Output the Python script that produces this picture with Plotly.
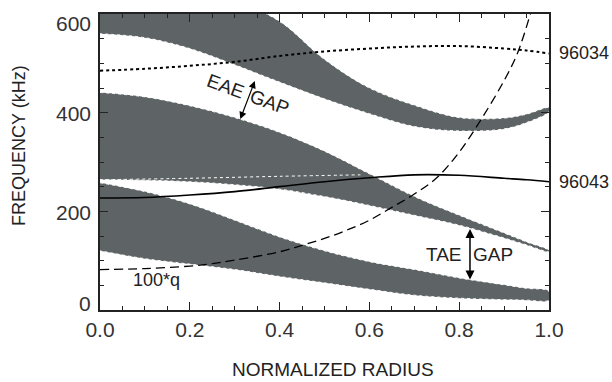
import plotly.graph_objects as go

# radial grid for the continuum boundaries
r = [0.0, 0.1, 0.2, 0.3, 0.4, 0.5, 0.6, 0.7, 0.8, 0.9, 0.95, 1.0]

# upper continuum band (above the EAE gap)
a_top = [720, 690, 660, 628, 585, 508, 450, 415, 390, 389, 397, 410]
a_bot = [560, 552, 530, 497, 462, 428, 398, 372, 363, 367, 380, 402]

# middle band (between TAE and EAE gaps)
b_top = [441, 432, 414, 390, 360, 322, 276, 230, 192, 156, 138, 121]
b_bot = [264, 263, 260, 254, 245, 230, 212, 192, 172, 146, 132, 118]

# inner edge running through the middle band
r_inner = [0.0, 0.2, 0.4, 0.58]
f_inner = [264, 267, 271, 274]

# lowest band (below the TAE gap)
c_top = [258, 240, 215, 182, 148, 120, 98, 82, 65, 51, 44, 38]
c_bot = [120, 104, 93, 82, 68, 55, 42, 30, 24, 21, 20, 20]

# frequency traces for two discharges
f_96034 = [485, 489, 495, 503, 515, 524, 530, 534, 535, 530, 526, 520]
f_96043 = [227, 228, 233, 240, 250, 260, 268, 274, 273, 267, 264, 260]

# safety factor profile, scaled by 100
r_q = [0.0, 0.1, 0.2, 0.25, 0.3, 0.4, 0.45, 0.5, 0.55, 0.6, 0.65, 0.7, 0.75, 0.8, 0.85, 0.9, 0.93, 0.96]
q100 = [82, 84, 89, 94, 101, 118, 131, 145, 162, 182, 208, 235, 268, 320, 388, 465, 521, 605]

# tick labels on the frequency axis
y_ticks = [0, 200, 400, 600]
y_tick_text = ["0", "200", "400", "600"]

BAND = "#5e6466"
FONT = "Liberation Sans"
INK = "#222"

fig = go.Figure()

for top, bot in [(a_top, a_bot), (b_top, b_bot), (c_top, c_bot)]:
    fig.add_trace(go.Scatter(
        x=r + r[::-1], y=top + bot[::-1], mode="lines", fill="toself",
        fillcolor=BAND, line=dict(color="white", width=1, dash="dot", shape="spline"),
        hoverinfo="skip", showlegend=False))

fig.add_trace(go.Scatter(x=r_inner, y=f_inner, mode="lines", showlegend=False, hoverinfo="skip",
                         line=dict(color="white", width=1, dash="dot", shape="spline")))

fig.add_trace(go.Scatter(x=r, y=f_96034, mode="lines", showlegend=False,
                         line=dict(color="black", width=2, dash="dot", shape="spline")))
fig.add_trace(go.Scatter(x=r, y=f_96043, mode="lines", showlegend=False,
                         line=dict(color="black", width=1.6, shape="spline")))
fig.add_trace(go.Scatter(x=r_q, y=q100, mode="lines", showlegend=False,
                         line=dict(color="black", width=1.3, dash="9px,5px", shape="spline")))

# shot labels beside the right axis
for y, txt in [(f_96034[-1], "96034"), (f_96043[-1], "96043")]:
    fig.add_annotation(x=1.0, y=y, xref="paper", yref="y", text=txt, showarrow=False,
                       xanchor="left", xshift=8, font=dict(family=FONT, size=18, color=INK))

fig.add_annotation(x=0.125, y=60, text="100*q", showarrow=False,
                   font=dict(family=FONT, size=18, color=INK))

# gap markers
fig.add_annotation(x=0.824, y=62, ax=0.824, ay=167, xref="x", yref="y", axref="x", ayref="y",
                   text="", showarrow=True, arrowhead=2, startarrowhead=2, arrowside="end+start",
                   arrowwidth=1.5, arrowsize=1.2, arrowcolor="black")
fig.add_annotation(x=0.824, y=112, text="TAE\u2009\u2009\u2009GAP", showarrow=False,
                   font=dict(family=FONT, size=19, color=INK))

fig.add_annotation(x=0.3125, y=387, ax=0.346, ay=467, xref="x", yref="y", axref="x", ayref="y",
                   text="", showarrow=True, arrowhead=2, startarrowhead=2, arrowside="end+start",
                   arrowwidth=1.2, arrowsize=1.2, arrowcolor="black")
fig.add_annotation(x=0.33, y=436, text="EAE\u2009\u2009GAP", showarrow=False, textangle=20,
                   font=dict(family=FONT, size=19, color=INK))

# frequency tick labels, the end ones pulled in toward the frame
for v, t in zip(y_ticks, y_tick_text):
    shift = 7 if v == y_ticks[0] else (-9 if v == y_ticks[-1] else -1)
    fig.add_annotation(x=0, y=v, xref="paper", yref="y", text=t, showarrow=False,
                       xanchor="right", xshift=-7, yshift=shift,
                       font=dict(family=FONT, size=21, color="#333"))

# axis titles
fig.add_annotation(x=0, y=0.554, xref="paper", yref="paper", text="FREQUENCY (kHz)",
                   showarrow=False, textangle=-90, xanchor="center", yanchor="middle",
                   xshift=-81, font=dict(family=FONT, size=18, color=INK))
fig.add_annotation(x=0.518, y=0, xref="paper", yref="paper", text="NORMALIZED RADIUS",
                   showarrow=False, xanchor="center", yanchor="middle", yshift=-59,
                   font=dict(family=FONT, size=19, color=INK))

axis_common = dict(showline=True, linecolor=INK, linewidth=1.5, mirror="ticks",
                   ticks="inside", ticklen=8, tickwidth=1, tickcolor=INK,
                   showgrid=False, zeroline=False)

fig.update_xaxes(range=[0, 1], dtick=0.2, tickformat=".1f",
                 tickfont=dict(family=FONT, size=21, color="#333"),
                 minor=dict(ticks="inside", ticklen=4, dtick=0.05, tickcolor=INK),
                 **axis_common)
fig.update_yaxes(range=[0, 600], dtick=200, showticklabels=False,
                 minor=dict(ticks="inside", ticklen=4, dtick=50, tickcolor=INK),
                 **axis_common)

fig.update_layout(width=612, height=382, margin=dict(l=100, r=63, t=12, b=72),
                  paper_bgcolor="white", plot_bgcolor="white")

fig.write_html("out.html")
